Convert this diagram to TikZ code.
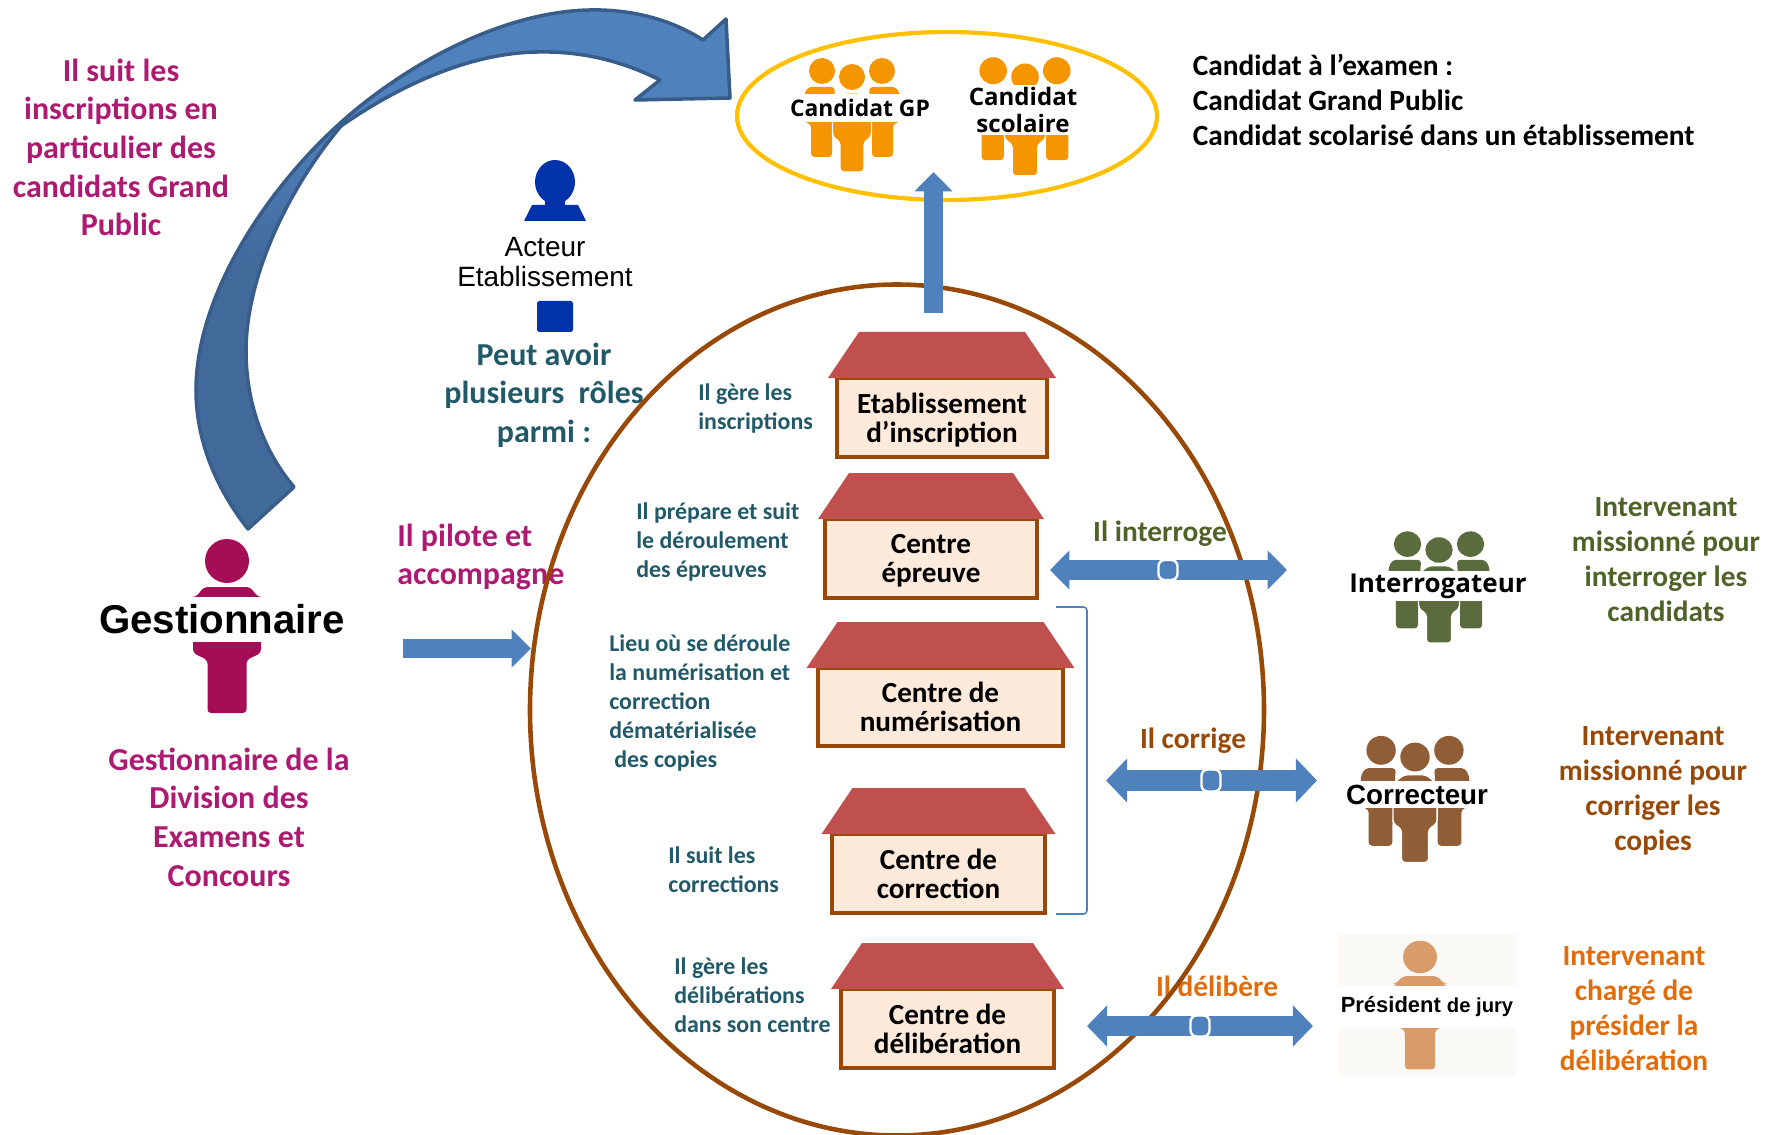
\documentclass[tikz,border=0pt]{standalone}
\usepackage{fontspec}
\setmainfont{Carlito}
\newfontfamily\arialfont{Liberation Sans}
\newfontfamily\iconfont{Open Sans}
\usetikzlibrary{positioning,calc,arrows.meta,shapes.geometric}
\newcommand{\pxu}{0.02cm}
\definecolor{tealtext}{HTML}{215968}
\definecolor{pinktext}{HTML}{AD1A72}
\definecolor{greentext}{HTML}{4F6228}
\definecolor{browntext}{HTML}{984807}
\definecolor{orangetext}{HTML}{E36C0A}
\definecolor{arrowblue}{HTML}{4F81BD}
\definecolor{arrowdark}{HTML}{41699A}
\definecolor{arrowedge}{HTML}{385D8A}
\definecolor{roofred}{HTML}{C0504D}
\definecolor{wallfill}{HTML}{FDEADA}
\definecolor{gestcolor}{HTML}{A30E57}
\definecolor{acteurcolor}{HTML}{0033AA}
\definecolor{candcolor}{HTML}{F59500}
\definecolor{intercolor}{HTML}{5B6B3E}
\definecolor{corrcolor}{HTML}{8F5D36}
\definecolor{prescolor}{HTML}{D99B69}
\definecolor{presback}{HTML}{FBF9F6}
\definecolor{candring}{HTML}{FFC000}
\pgfdeclareverticalshading{curveshade}{100bp}{color(0bp)=(arrowdark); color(50bp)=(arrowdark); color(64bp)=(arrowblue); color(100bp)=(arrowblue)}
\tikzset{
  bigtext/.style    = {inner sep=0pt, align=center, font=\bfseries\fontsize{18.2}{22}\selectfont},
  roletext/.style   = {inner sep=0pt, align=center, font=\bfseries\fontsize{16.7}{19.9}\selectfont},
  sidetext/.style   = {inner sep=0pt, align=left, anchor=west, text=tealtext, font=\bfseries\fontsize{13.6}{16.5}\selectfont},
  wallbox/.style    = {inner sep=0pt, outer sep=0pt, draw=browntext, line width=2pt, fill=wallfill},
  walltext/.style   = {inner sep=0pt, align=center, font=\bfseries\fontsize{16.6}{16.5}\selectfont},
  icontext/.style   = {inner sep=0pt, align=center, fill=white, font=\iconfont\bfseries\fontsize{13}{14.8}\selectfont},
  blockarrow/.style = {draw=arrowblue, line width=10.8pt},
  joint/.style      = {draw=white, fill=arrowblue, line width=1.4pt, rounded corners=3.5pt, inner sep=0pt,
                       minimum width=19*\pxu, minimum height=20*\pxu},
  >={Triangle[length=11pt,width=21pt]}
}
\newcommand{\DrawHouse}[7]{%
  % wall
  \node[wallbox, minimum width=#3*\pxu, minimum height=#4*\pxu] (#1) at #2 {};
  % label inside the wall
  \node[walltext] (#1label) at ($(#1)+(0,#7)$) {#6};
  % roof
  \fill[roofred] ($(#1.north west)+(-#5,0)$) -- ($(#1.north west)+(31-#5,-46)$)
    -- ($(#1.north east)+(#5-31,-46)$) -- ($(#1.north east)+(#5,0)$) -- cycle;
}
\newcommand{\DrawPerson}[4]{%
  \begin{scope}[shift={#2}, #3]
    \coordinate (#1) at (0,0);
    \fill[#4] (0,0) circle[radius=22];
    \fill[#4, rounded corners=2pt] (-23,26) -- (23,26) -- (31,36) -- (34,36) -- (34,92) -- (19.5,99) -- (19.5,152)
      -- (-19.5,152) -- (-19.5,99) -- (-34,92) -- (-34,36) -- (-31,36) -- cycle;
  \end{scope}
}
\newcommand{\DrawGroup}[4]{%
  \begin{scope}[shift={#2}, #3]
    \coordinate (#1) at (0,0);
    \foreach \sx in {-1,1}{
      \fill[#4] (\sx*30,-6) circle[radius=13];
      \fill[#4, rounded corners=2pt] (\sx*17,10) -- (\sx*44,10) -- (\sx*48,17) -- (\sx*48,45) -- (\sx*41,47)
        -- (\sx*41,80) -- (\sx*20,80) -- (\sx*20,62) -- (\sx*19.5,45) -- cycle;
    }
    \fill[#4] (0,0) circle[radius=13];
    \filldraw[#4, draw=white, line width=0.8pt, rounded corners=2pt] (-10,16) -- (10,16) -- (19.5,24) -- (19.5,60) -- (12,65)
      -- (12,95) -- (-12,95) -- (-12,65) -- (-19.5,60) -- (-19.5,24) -- cycle;
  \end{scope}
}
\begin{document}
\begin{tikzpicture}[x=\pxu, y=-\pxu]
  \useasboundingbox (0,0) rectangle (1779,1135);

  % texts lying under the big ellipse
  \node[bigtext, text=pinktext] (suivi) at (121,147.5) {Il suit les\\inscriptions en\\particulier des\\candidats Grand\\Public};
  \node[bigtext, text=pinktext, align=left, anchor=west] (pilote) at (397,557) {Il pilote et\\accompagne};
  \node[bigtext, text=pinktext] (division) at (229,817) {Gestionnaire de la\\Division des\\Examens et\\Concours};
  \node[bigtext, text=tealtext] (roles) at (544,395) {Peut avoir\\plusieurs\ \ rôles\\parmi :};
  \node[roletext, text=greentext] (interroge) at (1160,534) {Il interroge};
  \node[roletext, text=browntext] (corrige) at (1193,741) {Il corrige};
  \node[roletext, text=orangetext] (delibere) at (1217,986) {Il délibère};

  % people
  \DrawPerson{gestion}{(227,561)}{}{gestcolor}
  \node[inner sep=0pt, fill=white, minimum height=45*\pxu, font=\arialfont\bfseries\fontsize{22.9}{26}\selectfont] (gestlabel) at (222,619.5) {Gestionnaire};

  \fill[acteurcolor] (555,182) ellipse[x radius=20, y radius=22];
  \fill[acteurcolor] (532,205) -- (578,205) -- (586,221) -- (524,221) -- cycle;
  \fill[acteurcolor] (545,198) rectangle (565,206);
  \fill[acteurcolor, rounded corners=1pt] (537,301) rectangle (573,332);
  \node[inner sep=0pt, align=center, font=\arialfont\fontsize{15.9}{16.8}\selectfont] (acteur) at (545,262) {Acteur\\Etablissement};

  \DrawGroup{groupgp}{(852,77)}{}{candcolor}
  \node[icontext, minimum height=28*\pxu] (labelgp) at (860,108) {Candidat GP};
  \DrawGroup{groupscol}{(1025,77)}{xscale=1.06, yscale=1.04}{candcolor}
  \node[icontext, minimum width=112*\pxu, minimum height=50*\pxu, font=\iconfont\bfseries\fontsize{13.7}{15.4}\selectfont] (labelscol) at (1023,110) {Candidat\\scolaire};

  \DrawGroup{groupinter}{(1439,550)}{xscale=1.05, yscale=0.98}{intercolor}
  \node[icontext, minimum height=30*\pxu, font=\iconfont\bfseries\fontsize{14.8}{16}\selectfont] (labelinter) at (1438,586) {Interrogateur};
  \DrawGroup{groupcorr}{(1415,757)}{xscale=1.13, yscale=1.11}{corrcolor}
  \node[icontext, minimum height=27*\pxu, font=\arialfont\bfseries\fontsize{15.8}{18}\selectfont] (labelcorr) at (1417,794.5) {Correcteur};

  \fill[presback] (1338,934) rectangle (1516,1076);
  \DrawPerson{president}{(1420,957)}{xscale=0.77, yscale=0.74}{prescolor}
  \node[inner sep=0pt, fill=white, minimum width=178*\pxu, minimum height=42*\pxu, font=\arialfont\bfseries] (labelpres) at (1427,1007)
    {\fontsize{12.5}{14}\selectfont Président {\fontsize{11.5}{14}\selectfont de jury}};

  % ellipses
  \node[ellipse, draw=browntext, line width=2.6pt, minimum width=734*\pxu, minimum height=851*\pxu, inner sep=0pt] (process) at (897,710) {};
  \node[ellipse, draw=candring, line width=2.4pt, minimum width=420*\pxu, minimum height=168*\pxu, inner sep=0pt] (candidats) at (947,116) {};

  % houses
  \DrawHouse{etab}{(942,417.5)}{210}{79}{9}{Etablissement\\d’inscription}{2.5}
  \DrawHouse{epreuve}{(931,558.5)}{212}{79}{7}{Centre\\épreuve}{2.5}
  \DrawHouse{numer}{(940.5,707)}{245}{78}{11.5}{Centre de\\numérisation}{0}
  \DrawHouse{correc}{(938.5,873.5)}{213}{79}{10.5}{Centre de\\correction}{0}
  \DrawHouse{delib}{(947.5,1028.5)}{213}{79}{10}{Centre de\\délibération}{0}

  % what each house does
  \node[sidetext] (txetab) at (698,408.5) {Il gère les\\inscriptions};
  \node[sidetext] (txepreuve) at (636,542) {Il prépare et suit\\le déroulement\\des épreuves};
  \node[sidetext] (txnumer) at (609,703) {Lieu où se déroule\\la numérisation et\\correction\\dématérialisée\\\hspace*{2.8pt}des copies};
  \node[sidetext] (txcorrec) at (668,869.5) {Il suit les\\corrections};
  \node[sidetext] (txdelib) at (674,995.5) {Il gère les\\délibérations\\dans son centre};

  % who they are
  \node[roletext, align=left, anchor=west] (definition) at (1192.5,100) {Candidat à l’examen :\\Candidat Grand Public\\Candidat scolarisé dans un établissement};
  \node[roletext, text=greentext] (txinter) at (1666,560) {Intervenant\\missionné pour\\interroger les\\candidats};
  \node[roletext, text=browntext] (txcorr) at (1653,791) {Intervenant\\missionné pour\\corriger les\\copies};
  \node[roletext, text=orangetext] (txpres) at (1634,1009) {Intervenant\\chargé de\\présider la\\délibération};

  % bracket round numerisation and correction
  \coordinate (bracketA) at (1056,607);
  \coordinate (bracketB) at (1056,914);
  \draw[arrowblue, line width=0.9pt, rounded corners=2pt] (bracketA) -| ++(31,150) |- (bracketB);

  % straight arrows
  \coordinate (gestout) at (403,648.5);
  \coordinate (procin) at (531,648.5);
  \draw[blockarrow, ->] (gestout) -- (procin);
  \coordinate (procout) at (933.5,313);
  \coordinate (candin) at (933.5,172);
  \draw[blockarrow, ->] (procout) -- (candin);

  \coordinate (interA) at (1050,570);
  \coordinate (interB) at (1287,570);
  \draw[blockarrow, line width=11pt, <->, >={Triangle[length=11pt,width=21.6pt]}] (interA) -- (interB);
  \node[joint] (interjoint) at (1168,570) {};
  \coordinate (corrA) at (1106,780.5);
  \coordinate (corrB) at (1317,780.5);
  \draw[blockarrow, line width=12pt, <->, >={Triangle[length=12pt,width=24.4pt]}] (corrA) -- (corrB);
  \node[joint, minimum height=22*\pxu] (corrjoint) at (1211,780.5) {};
  \coordinate (delibA) at (1087,1026);
  \coordinate (delibB) at (1313,1026);
  \draw[blockarrow, line width=11.7pt, <->, >={Triangle[length=11.4pt,width=22.8pt]}] (delibA) -- (delibB);
  \node[joint, minimum height=21*\pxu] (delibjoint) at (1200,1026) {};

  % curved arrow
  \draw[arrowedge, line width=2pt, line join=round, shade, shading=curveshade]
    (248,529) .. controls (215,487) and (196,439) .. (196,390)
    .. controls (196,290) and (275,175) .. (359,107)
    .. controls (430,50) and (520,8) .. (600,10)
    .. controls (640,11) and (675,22) .. (703,40)
    -- (726,19) -- (730,98) -- (635,100) -- (660,80)
    .. controls (620,60) and (580,51) .. (537,52)
    .. controls (470,53) and (400,85) .. (341,126)
    .. controls (285,193) and (246,280) .. (246,351)
    .. controls (246,405) and (265,453) .. (294,487)
    -- cycle;
\end{tikzpicture}
\end{document}
